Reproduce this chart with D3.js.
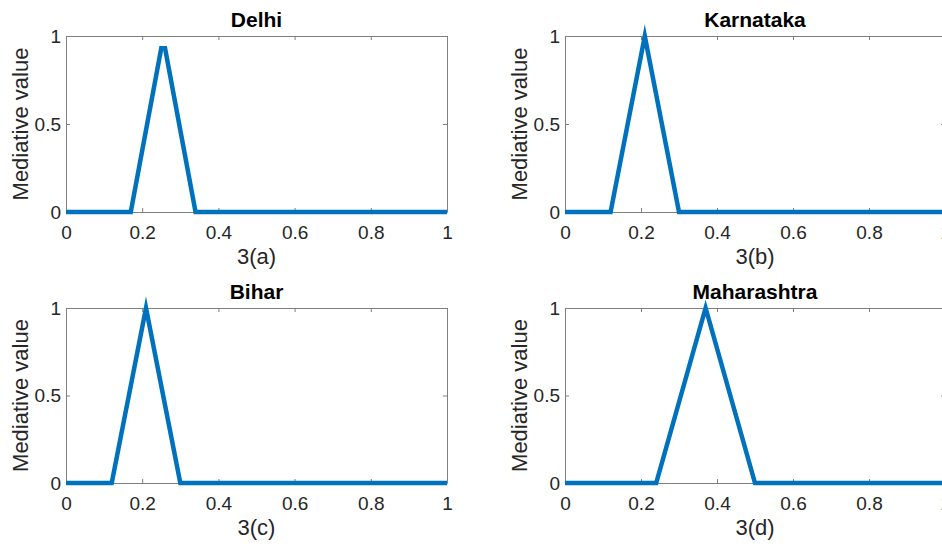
<!DOCTYPE html>
<html>
<head>
<meta charset="utf-8">
<script src="https://cdn.jsdelivr.net/npm/d3@7"></script>
<style>
    body { margin: 0; background: #fff; }
    svg { display: block; font-family: 'Liberation Sans', Arial, sans-serif; }
    .axis path, .axis line { stroke: #808080; }
    .axis text { fill: #262626; font-size: 19px; }
    .title { font-size: 21px; font-weight: bold; fill: #000; }
    .label { font-size: 22px; fill: #262626; }
    .line { fill: none; stroke: #0072bd; stroke-width: 4.5; stroke-linejoin: miter; stroke-miterlimit: 10; }
</style>
</head>
<body>
<div id="chart-wrapper"></div>
<script>
(function (d3) {

    var titles = ['Delhi', 'Karnataka', 'Bihar', 'Maharashtra'];
    var xLabels = ['3(a)', '3(b)', '3(c)', '3(d)'];
    var yLabel = 'Mediative value';

    var xTicks = [0, 0.2, 0.4, 0.6, 0.8, 1];
    var yTicks = [0, 0.5, 1];

    // membership breakpoints
    var delhiX = [0, 0.17, 0.25, 0.26, 0.34, 1];
    var delhiY = [0, 0, 0.93, 0.93, 0, 0];
    var karnatakaX = [0, 0.12, 0.21, 0.30, 1];
    var karnatakaY = [0, 0, 1, 0, 0];
    var biharX = [0, 0.12, 0.21, 0.30, 1];
    var biharY = [0, 0, 1, 0, 0];
    var maharashtraX = [0, 0.24, 0.37, 0.50, 1];
    var maharashtraY = [0, 0, 1, 0, 0];

    var seriesX = [delhiX, karnatakaX, biharX, maharashtraX];
    var seriesY = [delhiY, karnatakaY, biharY, maharashtraY];

    var width = 942,
        height = 547;

    // panel boxes: left, top, width, height
    var panels = [
        { left: 66, top: 36, w: 381, h: 176 },
        { left: 565, top: 36, w: 380, h: 176 },
        { left: 66, top: 308, w: 381, h: 175 },
        { left: 565, top: 308, w: 380, h: 175 }
    ];

    var fmt = d3.format('~g');

    var svg = d3.select('#chart-wrapper')
        .append('svg')
        .attr('width', width)
        .attr('height', height);

    panels.forEach(function (p, i) {
        var xScale = d3.scaleLinear().domain([0, 1]).range([0, p.w]);
        var yScale = d3.scaleLinear().domain([0, 1]).range([p.h, 0]);

        var g = svg.append('g')
            .attr('transform', 'translate(' + p.left + ',' + p.top + ')');

        g.append('g')
            .attr('class', 'axis')
            .attr('transform', 'translate(0,' + p.h + ')')
            .call(d3.axisBottom(xScale).tickValues(xTicks).tickFormat(fmt)
                .tickSizeInner(-4).tickSizeOuter(0).tickPadding(14));

        g.append('g')
            .attr('class', 'axis')
            .call(d3.axisTop(xScale).tickValues(xTicks).tickFormat('')
                .tickSizeInner(-4).tickSizeOuter(0));

        g.append('g')
            .attr('class', 'axis')
            .call(d3.axisLeft(yScale).tickValues(yTicks).tickFormat(fmt)
                .tickSizeInner(-4).tickSizeOuter(0).tickPadding(5));

        g.append('g')
            .attr('class', 'axis')
            .attr('transform', 'translate(' + p.w + ',0)')
            .call(d3.axisRight(yScale).tickValues(yTicks).tickFormat('')
                .tickSizeInner(-4).tickSizeOuter(0));

        var points = d3.zip(seriesX[i], seriesY[i]);

        g.append('path')
            .attr('class', 'line')
            .attr('d', d3.line()
                .x(function (d) { return xScale(d[0]); })
                .y(function (d) { return yScale(d[1]); })(points));

        g.append('text')
            .attr('class', 'title')
            .attr('x', p.w / 2)
            .attr('y', -9)
            .attr('text-anchor', 'middle')
            .text(titles[i]);

        g.append('text')
            .attr('class', 'label')
            .attr('x', p.w / 2)
            .attr('y', p.h + 52)
            .attr('text-anchor', 'middle')
            .text(xLabels[i]);

        g.append('text')
            .attr('class', 'label')
            .attr('transform', 'translate(' + (-38) + ',' + (p.h / 2) + ') rotate(-90)')
            .attr('text-anchor', 'middle')
            .text(yLabel);
    });

})(d3);
</script>
</body>
</html>
